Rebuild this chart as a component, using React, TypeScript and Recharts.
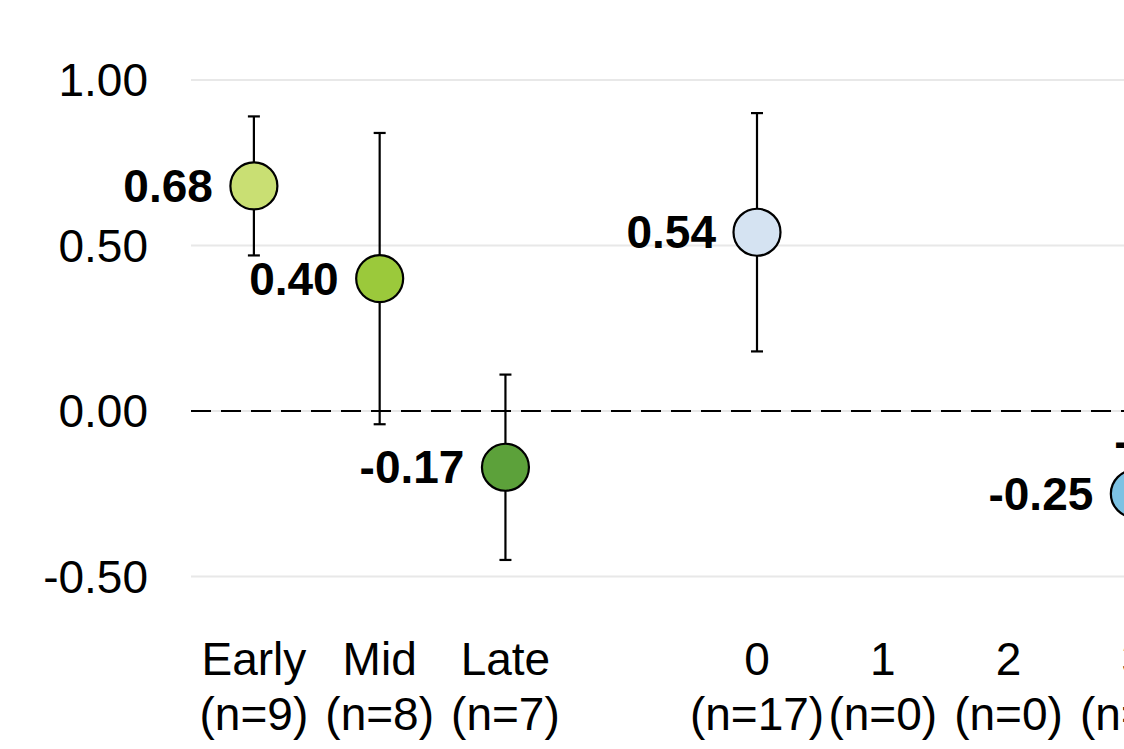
import React from "react";
import {
  ComposedChart,
  Scatter,
  XAxis,
  YAxis,
  CartesianGrid,
  ReferenceLine,
  ErrorBar,
} from "recharts";

// categories along the x axis (blank slot separates the two groups)
const categories = ["Early", "Mid", "Late", "", "0", "1", "2", "3", "4"];
const sampleSizes = [9, 8, 7, null, 17, 0, 0, 4, 3];
const means = [0.68, 0.4, -0.17, null, 0.54, null, null, -0.25, -0.09];
const ciHalfWidths = [0.21, 0.44, 0.28, null, 0.36, null, null, 0.24, 0.3];
const yTicks = [-0.5, 0, 0.5, 1];

const pointColors = [
  "#c9df73",
  "#9bc93b",
  "#5ca13a",
  "none",
  "#d5e3f2",
  "none",
  "none",
  "#7dc2e3",
  "#3f8fc8",
];

const FONT = "'Liberation Sans', Arial, sans-serif";

const points = categories
  .map((_, i) => ({ x: i, y: means[i], err: ciHalfWidths[i] }))
  .filter((p) => p.y !== null);

const YTick = (props: any) => {
  const { x, y, payload } = props;
  return (
    <text
      x={x - 43}
      y={y + 16}
      textAnchor="end"
      fontSize={46}
      fontFamily={FONT}
      fill="#000"
    >
      {payload.value.toFixed(2)}
    </text>
  );
};

const XTick = (props: any) => {
  const { x, y, payload } = props;
  const i = payload.value;
  const name = categories[i];
  const n = sampleSizes[i];
  if (!name) return null;
  return (
    <g>
      <text x={x} y={y + 98} textAnchor="middle" fontSize={46} fontFamily={FONT} fill="#000">
        {name}
      </text>
      <text x={x} y={y + 153} textAnchor="middle" fontSize={46} fontFamily={FONT} fill="#000">
        {`(n=${n})`}
      </text>
    </g>
  );
};

const PointShape = (props: any) => {
  const { cx, cy, payload } = props;
  return (
    <g>
      <circle
        cx={cx}
        cy={cy}
        r={23.5}
        fill={pointColors[payload.x]}
        stroke="#000"
        strokeWidth={2.2}
      />
      <text
        x={cx - 41}
        y={cy + 16}
        textAnchor="end"
        fontSize={46}
        fontWeight="bold"
        fontFamily={FONT}
        fill="#000"
      >
        {payload.y.toFixed(2)}
      </text>
    </g>
  );
};

export default function App() {
  return (
    <div
      style={{
        position: "fixed",
        top: 0,
        left: 0,
        width: 1124,
        height: 749,
        overflow: "hidden",
        background: "#fff",
        fontFamily: FONT,
      }}
    >
      <ComposedChart
        width={1331}
        height={749}
        margin={{ top: 80, right: 8, bottom: 0, left: 0 }}
      >
        <CartesianGrid vertical={false} stroke="#e8e8e8" strokeWidth={2} />
        <XAxis
          type="number"
          dataKey="x"
          domain={[-0.5, categories.length - 0.5]}
          ticks={categories.map((_, i) => i)}
          interval={0}
          axisLine={false}
          tickLine={false}
          tickSize={0}
          tickMargin={0}
          height={172.5}
          tick={<XTick />}
        />
        <YAxis
          type="number"
          dataKey="y"
          domain={[-0.5, 1]}
          allowDataOverflow
          ticks={yTicks}
          interval={0}
          axisLine={false}
          tickLine={false}
          tickSize={0}
          tickMargin={0}
          width={191}
          tick={<YTick />}
        />
        <ReferenceLine y={0} stroke="#000" strokeWidth={2} strokeDasharray="20 10" />
        <Scatter data={points} shape={<PointShape />} isAnimationActive={false}>
          <ErrorBar
            dataKey="err"
            direction="y"
            width={6}
            stroke="#000"
            strokeWidth={2.2}
            isAnimationActive={false}
          />
        </Scatter>
      </ComposedChart>
    </div>
  );
}
